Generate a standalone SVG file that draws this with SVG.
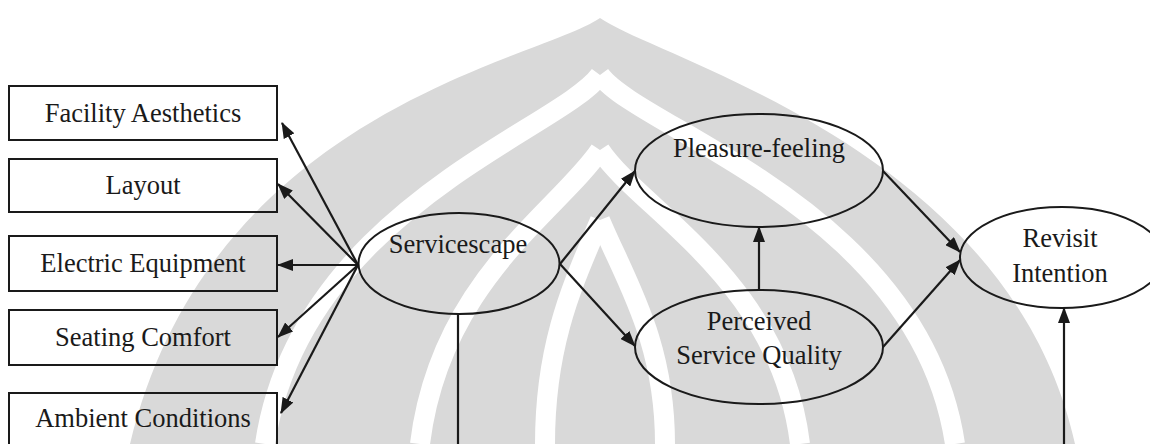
<svg xmlns="http://www.w3.org/2000/svg" width="1150" height="444" viewBox="0 0 1150 444">
<style>
text{font-family:"Liberation Serif","Times New Roman",serif;font-size:26.5px;fill:#1a1a1a;text-anchor:middle}
.box{fill:none;stroke:#1a1a1a;stroke-width:2}
.ell{fill:none;stroke:#1a1a1a;stroke-width:2}
.con{stroke:#1a1a1a;stroke-width:2.2;fill:none}
.arr{marker-end:url(#ah)}
.wm{fill:#d9d9d9}
.wl{fill:none;stroke:#ffffff;stroke-width:20}
</style>
<defs>
<marker id="ah" markerUnits="userSpaceOnUse" markerWidth="16" markerHeight="12" refX="15" refY="6" orient="auto">
<path d="M0,0 L16,6 L0,12 Z" fill="#1a1a1a"/>
</marker>
</defs>
<g id="watermark">
<path class="wm" d="M600,18 C540,60 210,110 130,444 L1075,444 C1010,150 660,60 600,18 Z"/>
<path class="wl" d="M600,75 C560,130 300,210 265,444"/>
<path class="wl" d="M600,75 C640,130 920,210 955,444"/>
<path class="wl" d="M600,150 C560,210 440,280 420,444"/>
<path class="wl" d="M600,150 C640,210 780,280 800,444"/>
<path class="wl" d="M600,220 C575,280 545,340 545,444"/>
<path class="wl" d="M600,220 C625,280 665,340 665,444"/>
</g>
<g id="facility-aesthetics"><rect class="box" x="9" y="86" width="268" height="54"/><text x="143" y="122">Facility Aesthetics</text></g>
<g id="layout"><rect class="box" x="9" y="159" width="268" height="53"/><text x="143" y="194">Layout</text></g>
<g id="electric-equipment"><rect class="box" x="9" y="236" width="268" height="55"/><text x="143" y="272">Electric Equipment</text></g>
<g id="seating-comfort"><rect class="box" x="9" y="310" width="268" height="55"/><text x="143" y="346">Seating Comfort</text></g>
<g id="ambient-conditions"><rect class="box" x="9" y="393" width="268" height="58"/><text x="143" y="427">Ambient Conditions</text></g>
<g id="servicescape"><ellipse class="ell" cx="459" cy="263.5" rx="100.5" ry="50.5"/><text x="458" y="253">Servicescape</text></g>
<g id="pleasure-feeling"><ellipse class="ell" cx="759" cy="170.5" rx="124" ry="56.5"/><text x="759" y="157">Pleasure-feeling</text></g>
<g id="perceived-service-quality"><ellipse class="ell" cx="759" cy="347" rx="124" ry="57"/><text x="759" y="330">Perceived</text><text x="759" y="364">Service Quality</text></g>
<g id="revisit-intention"><ellipse class="ell" cx="1062" cy="257.5" rx="102" ry="50.5"/><text x="1060" y="247">Revisit</text><text x="1060" y="282">Intention</text></g>
<g id="connectors">
<path class="con arr" d="M358,265 L282,123"/>
<path class="con arr" d="M358,265 L278,184"/>
<path class="con arr" d="M358,265 L278,265"/>
<path class="con arr" d="M358,265 L278,337"/>
<path class="con arr" d="M358,265 L281,413"/>
<path class="con arr" d="M560,264 L635,171"/>
<path class="con arr" d="M560,264 L635,346"/>
<path class="con arr" d="M759,290 L759,227"/>
<path class="con arr" d="M883,171 L960,252"/>
<path class="con arr" d="M883,347 L960,260"/>
<path class="con" d="M458,314 L458,444"/>
<path class="con arr" d="M1064,444 L1064,308"/>
</g>
</svg>
